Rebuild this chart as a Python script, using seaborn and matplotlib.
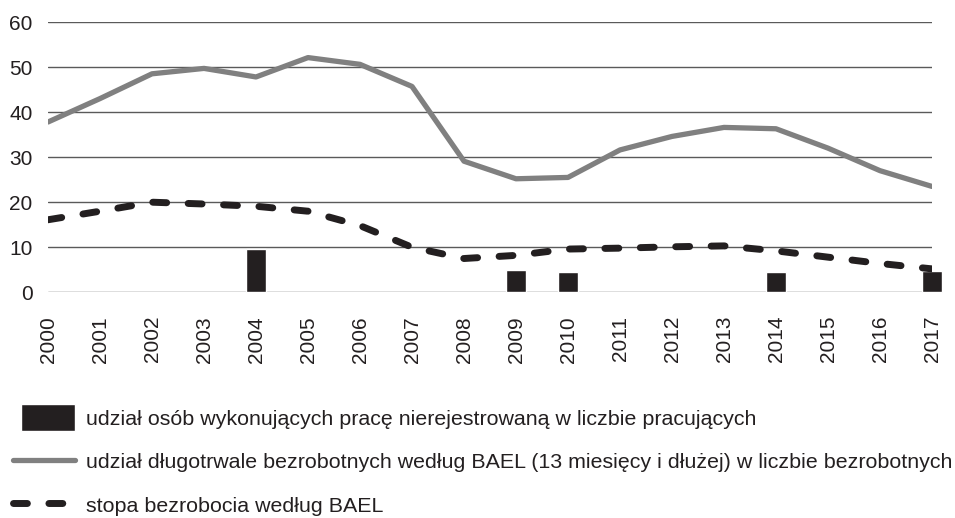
import matplotlib
matplotlib.use("Agg")
import matplotlib.pyplot as plt
from matplotlib.patches import Rectangle
from matplotlib.legend_handler import HandlerPatch
import seaborn as sns
import numpy as np
import pandas as pd

years = [str(y) for y in range(2000, 2018)]
bar_values = [np.nan, np.nan, np.nan, np.nan, 9.6, np.nan, np.nan, np.nan, np.nan,
              5.0, 4.6, np.nan, np.nan, np.nan, 4.5, np.nan, np.nan, 4.7]
long_term = [37.8, 43.0, 48.5, 49.7, 47.8, 52.1, 50.6, 45.7, 29.1, 25.2, 25.5,
             31.6, 34.6, 36.6, 36.3, 32.0, 27.0, 23.5]
unemployment = [16.1, 18.0, 20.0, 19.6, 19.1, 18.0, 14.8, 10.0, 7.5, 8.2, 9.6,
                9.8, 10.1, 10.3, 9.2, 7.8, 6.4, 5.2]

label_bar = "udział osób wykonujących pracę nierejestrowaną w liczbie pracujących"
label_long = "udział długotrwale bezrobotnych według BAEL (13 miesięcy i dłużej) w liczbie bezrobotnych"
label_unemp = "stopa bezrobocia według BAEL"

df = pd.DataFrame({"year": years, "bar": bar_values, "long": long_term, "unemp": unemployment})

sns.set_theme(style="white")
plt.rcParams["font.family"] = ["Liberation Sans", "DejaVu Sans"]
text_color = "#231f20"
FS = 15
LFS = 15.4

fig = plt.figure(figsize=(9.55, 5.18), dpi=100)
ax = fig.add_axes([48/955, 1 - 292.3/518, (932-48)/955, (292.3-22)/518])

sns.barplot(data=df, x="year", y="bar", order=years, color="#231f20", width=0.4,
            saturation=1, ax=ax, label=label_bar, zorder=3)
for p in ax.patches:
    p.set_clip_on(False)
sns.lineplot(data=df, x="year", y="long", color="#808080", linewidth=3.8, ax=ax,
             label=label_long, zorder=4, solid_capstyle="round", solid_joinstyle="round")
sns.lineplot(data=df, x="year", y="unemp", color="#231f20", linewidth=5.0, ax=ax,
             label=label_unemp, zorder=5, dashes=False)
ln = ax.lines[-1]
ln.set_linestyle((0, (2.0, 3.1)))
ln.set_dash_capstyle("round")
ln.set_dash_joinstyle("round")

ax.set_xlim(0, 17)
ax.set_ylim(0, 60)
ax.set_yticks(range(0, 61, 10))
ax.yaxis.grid(True, color="#5a5a5a", linewidth=1.0)
ax.xaxis.grid(False)
ax.set_axisbelow(True)
for s in ax.spines.values():
    s.set_visible(False)
ax.set_xlabel("")
ax.set_ylabel("")
ax.tick_params(axis="y", length=0, pad=11, labelsize=FS, labelcolor=text_color)
ax.tick_params(axis="x", length=0, pad=17, labelsize=FS, labelcolor=text_color, rotation=90)

SQ_H = 27 * 72 / 100  # points


def square_patch(legend, orig_handle, xdescent, ydescent, width, height, fontsize):
    cy = -ydescent + height / 2
    return Rectangle((-xdescent + width * 8 / 62, cy - SQ_H / 2), width * 54 / 62, SQ_H)


handles, labels = ax.get_legend_handles_labels()
order = [labels.index(label_bar), labels.index(label_long), labels.index(label_unemp)]
leg_handles = [handles[i] for i in order]
bar_handle = leg_handles[0]
if hasattr(bar_handle, "patches"):
    bar_handle = bar_handle.patches[0]
    leg_handles[0] = bar_handle
ax.legend(leg_handles, [labels[i] for i in order],
          loc="upper left", bbox_to_anchor=(13/955, 1 - 408/518),
          bbox_transform=fig.transFigure, frameon=False, fontsize=LFS,
          handlelength=2.9, handleheight=1.0, handletextpad=0.52,
          labelspacing=1.05, borderpad=0, borderaxespad=0, labelcolor=text_color,
          handler_map={bar_handle: HandlerPatch(patch_func=square_patch)})

fig.savefig("out.png", dpi=100)
